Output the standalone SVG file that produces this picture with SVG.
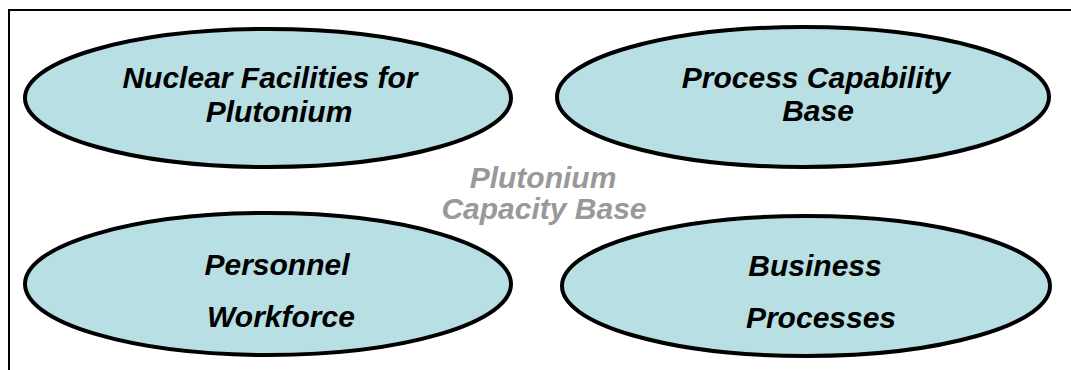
<svg xmlns="http://www.w3.org/2000/svg" width="1071" height="370" viewBox="0 0 1071 370">
<style>
.n{fill:#B8DFE3;stroke:#000;stroke-width:4}
.t{font-family:"Liberation Sans",Arial,sans-serif;font-weight:bold;font-style:italic;font-size:30px;fill:#000;text-anchor:middle}
.g{fill:#999999}
</style>
<rect x="9" y="10" width="1080" height="380" fill="#fff" stroke="#000" stroke-width="2"/>
<g id="connectors"/>
<g id="nuclear">
<ellipse class="n" cx="268" cy="98" rx="243" ry="69"/>
<text class="t" x="270" y="88">Nuclear Facilities for</text>
<text class="t" x="279" y="122">Plutonium</text>
</g>
<g id="process">
<ellipse class="n" cx="803" cy="97" rx="246" ry="70"/>
<text class="t" x="816" y="88">Process Capability</text>
<text class="t" x="818" y="121">Base</text>
</g>
<g id="personnel">
<ellipse class="n" cx="268" cy="284" rx="243" ry="71"/>
<text class="t" x="277" y="275">Personnel</text>
<text class="t" x="281" y="327">Workforce</text>
</g>
<g id="business">
<ellipse class="n" cx="806" cy="286" rx="244" ry="70"/>
<text class="t" x="815" y="276">Business</text>
<text class="t" x="821" y="328">Processes</text>
</g>
<g id="capacity">
<text class="t g" x="543" y="188">Plutonium</text>
<text class="t g" x="544" y="219">Capacity Base</text>
</g>
</svg>
